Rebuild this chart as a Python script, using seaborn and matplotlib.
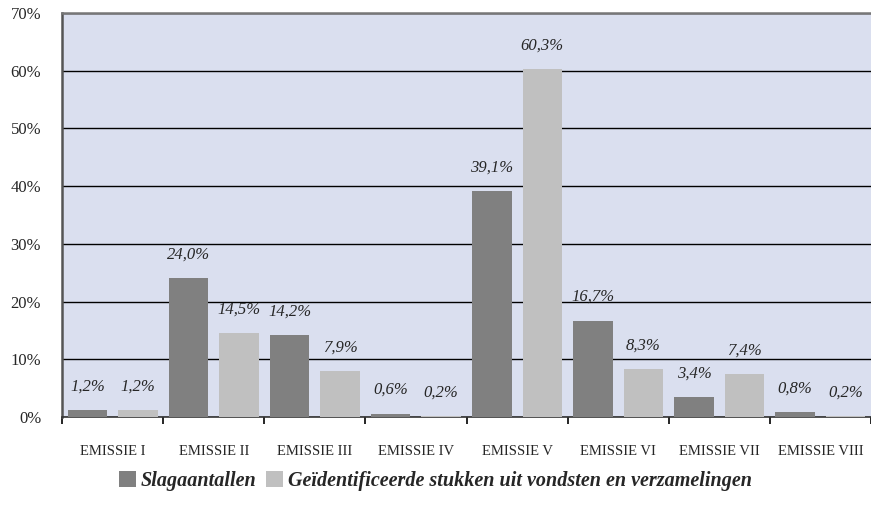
import pandas as pd
import matplotlib
matplotlib.use("Agg")
import matplotlib.pyplot as plt
import seaborn as sns

# data
emissies = ["Emissie I", "Emissie II", "Emissie III", "Emissie IV",
            "Emissie V", "Emissie VI", "Emissie VII", "Emissie VIII"]
slag = [1.2, 24.0, 14.2, 0.6, 39.1, 16.7, 3.4, 0.8]
gevonden = [1.2, 14.5, 7.9, 0.2, 60.3, 8.3, 7.4, 0.2]
reeks = ["Slagaantallen", "Geïdentificeerde stukken uit vondsten en verzamelingen"]

df = pd.DataFrame({
    "Emissie": emissies * 2,
    "Pct": slag + gevonden,
    "Reeks": [reeks[0]] * len(emissies) + [reeks[1]] * len(emissies),
})

sns.set_style("white")
plt.rcParams["font.family"] = ["Liberation Serif", "DejaVu Serif"]

fig = plt.figure(figsize=(8.71, 5.14), dpi=100)
ax = fig.add_axes([62 / 871, 1 - 417 / 514, 1 - 62 / 871, (417 - 13) / 514])
ax.set_facecolor("#dadfef")

sns.barplot(data=df, x="Emissie", y="Pct", hue="Reeks", hue_order=reeks,
            order=emissies, palette=["#808080", "#c0c0c0"],
            width=1.0, gap=0.22, saturation=1, linewidth=0, ax=ax, zorder=3)

ax.set_ylim(0, 70)
ax.set_xlim(-0.5, len(emissies) - 0.5)
ax.set_yticks(range(0, 71, 10))
ax.set_yticklabels([f"{v}%" for v in range(0, 71, 10)], fontsize=12)
ax.yaxis.grid(True, color="black", linewidth=1)
ax.set_axisbelow(True)
ax.tick_params(axis="y", length=0, pad=15)

ax.set_xticks(range(len(emissies)))
ax.set_xticklabels([e.upper() for e in emissies], fontsize=10.5)
ax.set_xticks([i - 0.5 for i in range(len(emissies) + 1)], minor=True)
ax.tick_params(axis="x", which="major", length=0, pad=20)
ax.tick_params(axis="x", which="minor", length=5, width=1.2, color="black", direction="out", bottom=True)
ax.set_xlabel("")
ax.set_ylabel("")

ax.spines["left"].set_color("#555555")
ax.spines["left"].set_linewidth(1.8)
ax.spines["bottom"].set_color("#333333")
ax.spines["bottom"].set_linewidth(1.2)
ax.spines["top"].set_color("#777777")
ax.spines["top"].set_linewidth(1.8)
ax.spines["right"].set_visible(False)

for cont in ax.containers:
    for bar in cont:
        h = bar.get_height()
        ax.annotate(f"{h:.1f}%".replace(".", ","),
                    (bar.get_x() + bar.get_width() / 2, h),
                    xytext=(0, 17), textcoords="offset points",
                    ha="center", va="center", fontsize=12, style="italic")

handles, labels = ax.get_legend_handles_labels()
ax.get_legend().remove()
fig.legend(handles, labels, loc="center", bbox_to_anchor=(0.5, 1 - 481 / 514),
           ncol=2, frameon=False, handlelength=0.8, handleheight=0.8,
           handletextpad=0.25, columnspacing=0.5,
           prop={"size": 14.5, "style": "italic", "weight": "bold"})

fig.savefig("out.png", dpi=100)
